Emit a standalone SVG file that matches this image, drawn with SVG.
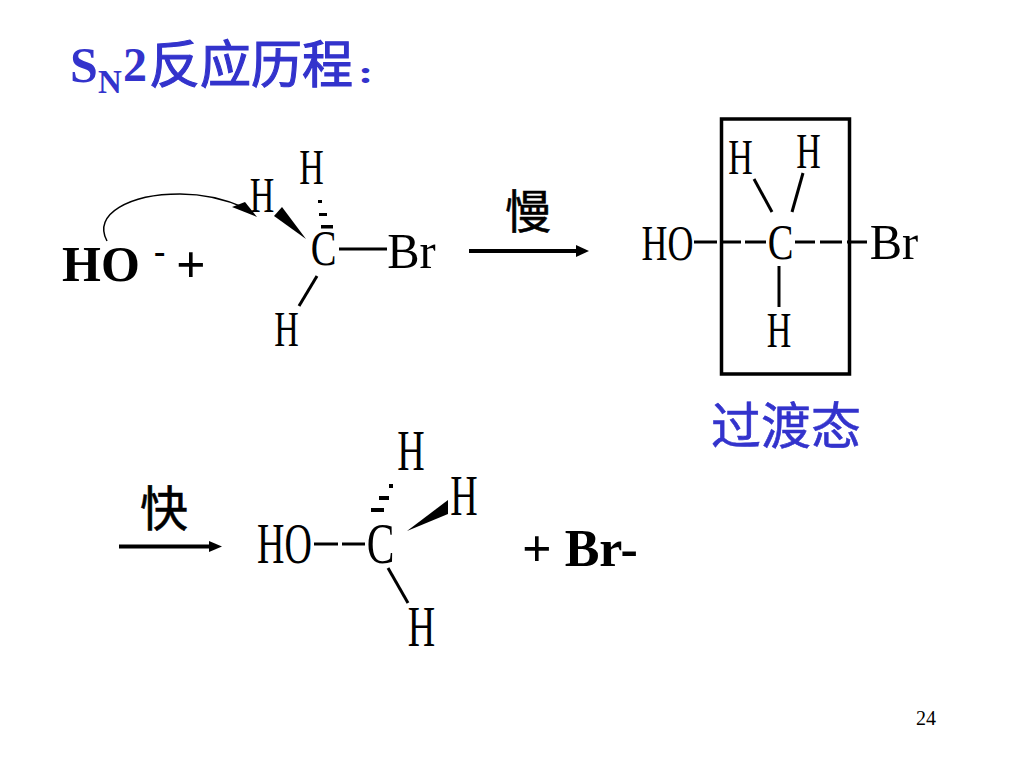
<svg xmlns="http://www.w3.org/2000/svg" width="1024" height="768" viewBox="0 0 1024 768">
<style>
.a{font-family:"Liberation Serif",serif;font-size:50px;fill:#000;text-anchor:middle}
.b{font-family:"Liberation Serif",serif;font-weight:bold;font-size:50px;fill:#000}
.t{font-family:"Liberation Serif",serif;font-weight:bold;font-size:50px;fill:#3333cc}
.c{font-family:"Noto Sans CJK SC",sans-serif;font-size:50px;stroke-width:.6}
.l{stroke:#000;stroke-width:3;fill:none}
.ar{stroke:#000;stroke-width:4;fill:none}
.box{stroke:#000;stroke-width:3.500;fill:none}
.s{stroke:#000;fill:none}
</style>
<rect width="1024" height="768" fill="#fff"/>
<g id="title">
<text class="t" x="70" y="82">S<tspan x="98" y="93" style="font-size:33px">N</tspan><tspan x="123" y="81" style="font-size:48px">2</tspan></text>
<text class="c" x="149" y="83" fill="#3333cc" stroke="#3333cc" style="font-size:51px;stroke-width:1.100">反应历程</text>
<text class="t" transform="translate(358,83) scale(1,.7)" style="font-size:46px">:</text>
</g>
<g id="hydroxide">
<text class="b" x="62" y="281">HO</text>
<text class="b" x="154" y="263" style="font-size:34px">-</text>
<text class="b" x="176" y="282" style="font-size:52px">+</text>
</g>
<g id="reactant">
<text class="a" transform="translate(311.500,184) scale(.68,1)">H</text>
<text class="a" transform="translate(262,212) scale(.68,1)">H</text>
<text class="a" transform="translate(323.500,265) scale(.77,1)">C</text>
<text class="a" transform="translate(411.500,268) scale(.97,1)">Br</text>
<text class="a" transform="translate(286.500,346) scale(.68,1)">H</text>
<path d="M306 239L274 216L282 207Z" fill="#000"/>
<path d="M318 200h4v3h-4zM319 213h8v3h-8zM321 225h12v3.500h-12z" fill="#000"/>
<line class="l" x1="339" y1="249" x2="387" y2="249"/>
<line class="l" x1="317" y1="276" x2="299" y2="306"/>
</g>
<g id="reaction-arrows">
<path class="s" stroke-width="1.500" d="M107 241C92 214 130 194 180 194C205 194 225 199 245 208"/>
<path d="M232 207L245 202L257 217Z" fill="#000"/>
<line class="ar" x1="469" y1="251" x2="578" y2="251"/>
<path d="M589 251L576 245V257Z" fill="#000"/>
<line class="ar" x1="119" y1="546.500" x2="211" y2="546.500"/>
<path d="M222 546.500L209 541V552Z" fill="#000"/>
</g>
<g id="slow-label"><text class="c" x="505" y="228" stroke="#000" style="font-size:46px">慢</text></g>
<g id="transition-state">
<rect class="box" x="721.500" y="119" width="128" height="255"/>
<text class="a" transform="translate(740.500,174) scale(.68,1)">H</text>
<text class="a" transform="translate(808.500,168) scale(.68,1)">H</text>
<text class="a" transform="translate(667.500,260) scale(.72,1)">HO</text>
<text class="a" transform="translate(780.500,259) scale(.77,1)">C</text>
<text class="a" transform="translate(894,259) scale(.97,1)">Br</text>
<text class="a" transform="translate(779,347) scale(.68,1)">H</text>
<line class="l" x1="754" y1="179" x2="772" y2="212"/>
<line class="l" x1="803" y1="173" x2="792" y2="212"/>
<line class="l" x1="779" y1="266" x2="779" y2="307"/>
<line class="l" x1="694" y1="242" x2="717" y2="242"/>
<line class="l" x1="720" y1="242" x2="741" y2="242"/>
<line class="l" x1="745" y1="242" x2="766" y2="242"/>
<line class="l" x1="795" y1="242" x2="815" y2="242"/>
<line class="l" x1="820" y1="242" x2="842" y2="242"/>
<line class="l" x1="847" y1="242" x2="867" y2="242"/>
</g>
<g id="transition-label"><text class="c" x="711" y="444" fill="#3333cc" stroke="#3333cc">过渡态</text></g>
<g id="fast-label"><text class="c" x="140" y="526" stroke="#000" style="font-size:48px">快</text></g>
<g id="product">
<text class="a" transform="translate(411,470) scale(.76,1.120)">H</text>
<text class="a" transform="translate(464,515) scale(.76,1.120)">H</text>
<text class="a" transform="translate(284.500,563) scale(.76,1.120)">HO</text>
<text class="a" transform="translate(380.500,563) scale(.83,1.120)">C</text>
<text class="a" transform="translate(421.500,646) scale(.76,1.120)">H</text>
<path d="M407 531L448 500V514Z" fill="#000"/>
<path d="M389 484h4v4h-4zM379 496h10v4h-10zM371 508h13v4h-13z" fill="#000"/>
<line class="l" x1="314" y1="544" x2="338" y2="544"/>
<line class="l" x1="342" y1="544" x2="365" y2="544"/>
<line class="l" x1="388" y1="568" x2="408" y2="603"/>
</g>
<g id="bromide"><text class="b" x="522" y="566" style="font-size:52px">+ Br-</text></g>
<g id="page-number"><text x="916" y="725" font-family="Liberation Serif, serif" font-size="20">24</text></g>
</svg>
